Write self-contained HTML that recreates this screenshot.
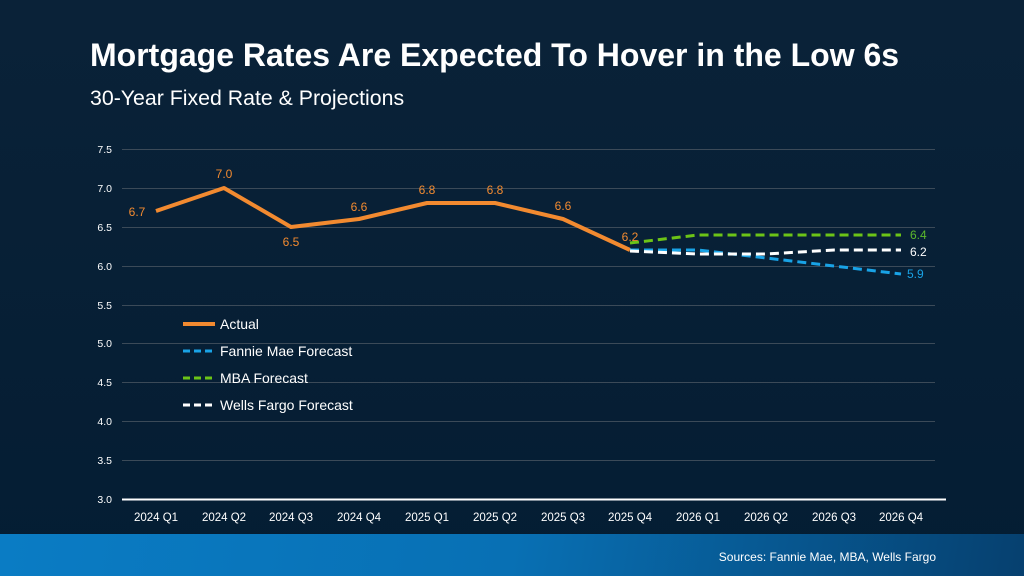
<!DOCTYPE html><html><head><style>
body{margin:0;width:1024px;height:576px;overflow:hidden;font-family:"Liberation Sans",Arial,sans-serif;}
.bg{position:absolute;left:0;top:0;width:1024px;height:576px;background:linear-gradient(180deg,#0a2238 0%,#041d33 100%);}
.band{position:absolute;left:0;top:534px;width:1024px;height:42px;background:linear-gradient(100deg,#0a7cc4 0%,#0870b4 50%,#06406f 100%);}
</style></head><body>
<div class="bg"></div><div class="band"></div>
<svg width="1024" height="576" style="position:absolute;left:0;top:0" font-family="Liberation Sans, Arial, sans-serif">
<text x="90" y="66" fill="#fff" font-size="32" font-weight="bold">Mortgage Rates Are Expected To Hover in the Low 6s</text>
<text x="90" y="105" fill="#fff" font-size="21.3">30-Year Fixed Rate &amp; Projections</text>
<g stroke="#3b4a58" stroke-width="1">
<line x1="122" x2="935" y1="149.5" y2="149.5"/><line x1="122" x2="935" y1="188.5" y2="188.5"/><line x1="122" x2="935" y1="227.5" y2="227.5"/><line x1="122" x2="935" y1="266.5" y2="266.5"/><line x1="122" x2="935" y1="305.5" y2="305.5"/><line x1="122" x2="935" y1="343.5" y2="343.5"/><line x1="122" x2="935" y1="382.5" y2="382.5"/><line x1="122" x2="935" y1="421.5" y2="421.5"/><line x1="122" x2="935" y1="460.5" y2="460.5"/>
</g>
<line x1="122" x2="946" y1="499.5" y2="499.5" stroke="#fff" stroke-width="2"/>
<g fill="#fff" font-size="10.5" text-anchor="end">
<text x="112" y="153">7.5</text><text x="112" y="192">7.0</text><text x="112" y="231">6.5</text><text x="112" y="270">6.0</text><text x="112" y="309">5.5</text><text x="112" y="347">5.0</text><text x="112" y="386">4.5</text><text x="112" y="425">4.0</text><text x="112" y="464">3.5</text><text x="112" y="503">3.0</text>
</g>
<g fill="#fff" font-size="11.5" text-anchor="middle">
<text x="156" y="521">2024 Q1</text><text x="224" y="521">2024 Q2</text><text x="291" y="521">2024 Q3</text><text x="359" y="521">2024 Q4</text><text x="427" y="521">2025 Q1</text><text x="495" y="521">2025 Q2</text><text x="563" y="521">2025 Q3</text><text x="630" y="521">2025 Q4</text><text x="698" y="521">2026 Q1</text><text x="766" y="521">2026 Q2</text><text x="834" y="521">2026 Q3</text><text x="901" y="521">2026 Q4</text>
</g>
<polyline fill="none" stroke="#f28a30" stroke-width="4" stroke-linejoin="round" points="156,211 224,188 291,227 359,219 427,203 495,203 563,219 630,250"/>
<polyline fill="none" stroke="#6cc417" stroke-width="3" stroke-dasharray="9,5" points="630,243 698,235 766,235 834,235 901,235"/>
<polyline fill="none" stroke="#19a3e6" stroke-width="3" stroke-dasharray="9,5" points="630,250 698,250 766,258 834,266 901,274"/>
<polyline fill="none" stroke="#fff" stroke-width="3" stroke-dasharray="9,5" points="630,251 698,254 766,254 834,250 901,250"/>
<g fill="#f28a30" font-size="12" text-anchor="middle">
<text x="137" y="216">6.7</text><text x="224" y="178">7.0</text><text x="291" y="246">6.5</text><text x="359" y="211">6.6</text><text x="427" y="194">6.8</text><text x="495" y="194">6.8</text><text x="563" y="210">6.6</text><text x="630" y="241">6.2</text>
</g>
<text x="910" y="239" fill="#5cb82c" font-size="12">6.4</text>
<text x="910" y="256" fill="#fff" font-size="12">6.2</text>
<text x="907" y="278" fill="#19a3e6" font-size="12">5.9</text>
<line x1="183" x2="215" y1="324" y2="324" stroke="#f28a30" stroke-width="4"/>
<line x1="183" x2="215" y1="351" y2="351" stroke="#19a3e6" stroke-width="3" stroke-dasharray="7,4"/>
<line x1="183" x2="215" y1="378" y2="378" stroke="#6cc417" stroke-width="3" stroke-dasharray="7,4"/>
<line x1="183" x2="215" y1="405" y2="405" stroke="#fff" stroke-width="3" stroke-dasharray="7,4"/>
<g fill="#fff" font-size="14"><text x="220" y="329">Actual</text><text x="220" y="356">Fannie Mae Forecast</text><text x="220" y="383">MBA Forecast</text><text x="220" y="410">Wells Fargo Forecast</text></g>
<text x="936" y="561" fill="#fff" font-size="12" text-anchor="end">Sources: Fannie Mae, MBA, Wells Fargo</text>
</svg>
</body></html>
